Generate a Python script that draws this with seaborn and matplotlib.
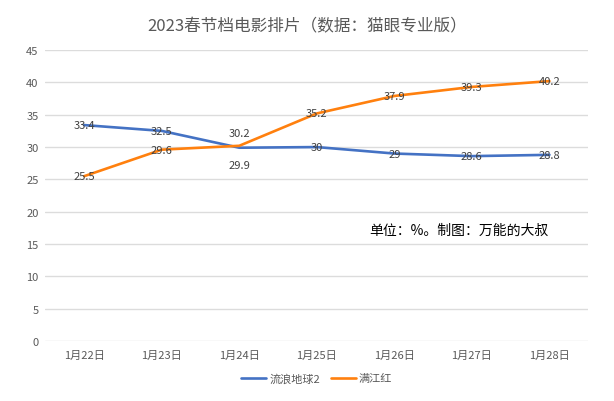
import matplotlib
matplotlib.use('Agg')
import matplotlib.pyplot as plt
import seaborn as sns
import pandas as pd

dates = ['1月22日', '1月23日', '1月24日', '1月25日', '1月26日', '1月27日', '1月28日']
wandering_earth = [33.4, 32.5, 29.9, 30, 29, 28.6, 28.8]
full_river_red = [25.5, 29.6, 30.2, 35.2, 37.9, 39.3, 40.2]
series_names = ['流浪地球2', '满江红']
colors = ['#4472C4', '#FF800E']

sns.set_theme(style='white')
plt.rcParams['font.family'] = ['Noto Sans CJK SC', 'DejaVu Sans']

df = pd.DataFrame({
    '日期': dates * 2,
    '排片': wandering_earth + full_river_red,
    '影片': [series_names[0]] * len(dates) + [series_names[1]] * len(dates),
})

fig = plt.figure(figsize=(6.14, 4.02), dpi=100)
ax = fig.add_axes([0.074, 0.149, 0.884, 0.724])

sns.lineplot(data=df, x='日期', y='排片', hue='影片', palette=colors,
             linewidth=1.9, ax=ax, sort=False)

# data labels
for i, v in enumerate(wandering_earth):
    dy = -2.6 if i == 2 else 0
    ax.text(i, v + dy, f'{v:g}', ha='center', va='center', fontsize=8, color='#404040')
for i, v in enumerate(full_river_red):
    dy = 1.9 if i == 2 else 0
    ax.text(i, v + dy, f'{v:g}', ha='center', va='center', fontsize=8, color='#404040')

ax.set_xlim(-0.5, len(dates) - 0.5)
ax.set_ylim(0, 45)
ax.set_yticks(range(0, 46, 5))
ax.grid(axis='y', color='#DCDCDC', linewidth=1)
ax.set_axisbelow(True)
for s in ['top', 'right', 'left', 'bottom']:
    ax.spines[s].set_visible(False)
ax.tick_params(axis='both', labelsize=8, labelcolor='#595959', length=0)
ax.tick_params(axis='y', pad=5)
ax.tick_params(axis='x', pad=6)
ax.set_xlabel('')
ax.set_ylabel('')

fig.text(0.602, 0.425, '单位：%。制图：万能的大叔', fontsize=10, color='#000000',
         ha='left', va='center')

fig.suptitle('2023春节档电影排片（数据：猫眼专业版）', y=0.955, fontsize=12,
             color='#595959')

ax.legend(loc='upper center', bbox_to_anchor=(0.5, -0.075), ncol=2, frameon=False,
          fontsize=8, handlelength=2.2, handletextpad=0.3, columnspacing=1.0,
          labelcolor='#595959')

fig.savefig('out.png', dpi=100)
